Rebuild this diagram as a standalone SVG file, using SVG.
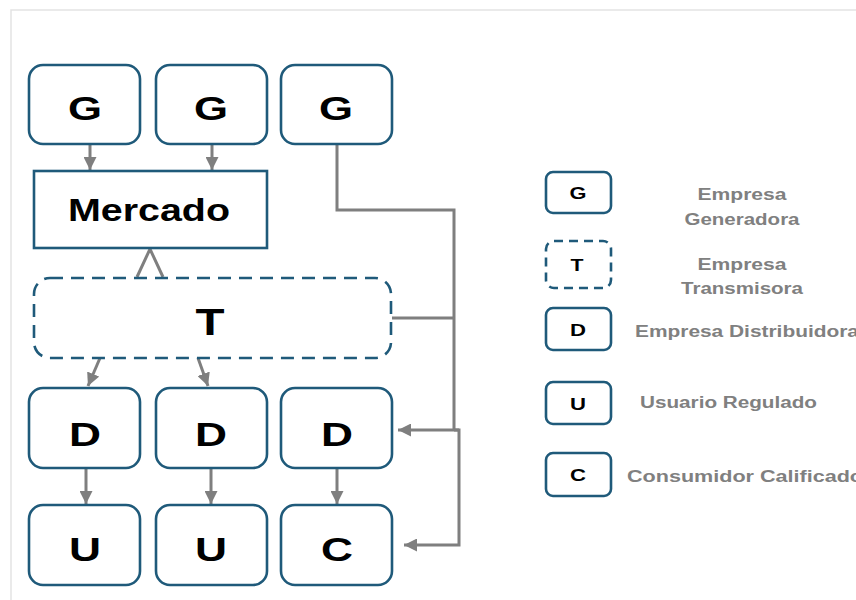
<svg xmlns="http://www.w3.org/2000/svg" width="856" height="600" viewBox="0 0 856 600">
<defs>
<marker id="ah" viewBox="0 0 10 10" refX="10" refY="5" markerWidth="13" markerHeight="13" markerUnits="userSpaceOnUse" orient="auto">
<path d="M0,0 L10,5 L0,10 z" fill="#7f7f7f"/>
</marker>
<style>
.box{fill:#fff;stroke:#1f5a7a;stroke-width:2.6}
.dash{stroke-dasharray:13 8}
.lbl{font-family:"Liberation Sans",Arial,sans-serif;font-weight:bold;fill:#000;text-anchor:middle}
.big{font-size:34px}
.sm{font-size:17px}
.leg{font-family:"Liberation Sans",Arial,sans-serif;font-weight:bold;fill:#808080;font-size:16px}
.mid{text-anchor:middle}
.c{fill:none;stroke:#7f7f7f;stroke-width:3}
</style>
</defs>
<rect width="856" height="600" fill="#fff"/>
<path d="M11,600 L11,10 L856,10" fill="none" stroke="#e3e3e3" stroke-width="1.5"/>

<g id="connectors">
<line class="c" x1="90" y1="145" x2="90" y2="170" marker-end="url(#ah)"/>
<line class="c" x1="212" y1="145" x2="212" y2="170" marker-end="url(#ah)"/>
<polyline class="c" points="337,145 337,210 454,210 454,430"/>
<line class="c" x1="392" y1="318" x2="454" y2="318"/>
<line class="c" x1="459" y1="430" x2="398" y2="430" marker-end="url(#ah)"/>
<polyline class="c" points="454,430 459,430 459,545 404,545" marker-end="url(#ah)"/>
<polyline class="c" points="137,277 150,249 163,277"/>
<line class="c" x1="100" y1="358" x2="88" y2="386" marker-end="url(#ah)"/>
<line class="c" x1="198" y1="358" x2="208" y2="386" marker-end="url(#ah)"/>
<line class="c" x1="86" y1="469" x2="86" y2="504" marker-end="url(#ah)"/>
<line class="c" x1="211" y1="469" x2="211" y2="504" marker-end="url(#ah)"/>
<line class="c" x1="337" y1="469" x2="337" y2="504" marker-end="url(#ah)"/>
</g>

<g id="g1"><rect class="box" x="29" y="65" width="111" height="79" rx="14"/><text class="lbl big" x="85" y="120" textLength="34" lengthAdjust="spacingAndGlyphs">G</text></g>
<g id="g2"><rect class="box" x="156" y="65" width="111" height="79" rx="14"/><text class="lbl big" x="211" y="120" textLength="34" lengthAdjust="spacingAndGlyphs">G</text></g>
<g id="g3"><rect class="box" x="281" y="65" width="111" height="79" rx="14"/><text class="lbl big" x="336" y="120" textLength="34" lengthAdjust="spacingAndGlyphs">G</text></g>
<g id="mercado"><rect class="box" x="34" y="171" width="233" height="77"/><text class="lbl" x="149" y="221" font-size="32" textLength="162" lengthAdjust="spacingAndGlyphs">Mercado</text></g>
<g id="t"><rect class="box dash" x="34" y="278" width="357" height="80" rx="16"/><text class="lbl" x="210" y="335" font-size="36" textLength="29" lengthAdjust="spacingAndGlyphs">T</text></g>
<g id="d1"><rect class="box" x="29" y="388" width="111" height="80" rx="14"/><text class="lbl big" x="85" y="446" textLength="32" lengthAdjust="spacingAndGlyphs">D</text></g>
<g id="d2"><rect class="box" x="156" y="388" width="111" height="80" rx="14"/><text class="lbl big" x="211" y="446" textLength="32" lengthAdjust="spacingAndGlyphs">D</text></g>
<g id="d3"><rect class="box" x="281" y="388" width="111" height="80" rx="14"/><text class="lbl big" x="337" y="446" textLength="32" lengthAdjust="spacingAndGlyphs">D</text></g>
<g id="u1"><rect class="box" x="29" y="505" width="111" height="80" rx="14"/><text class="lbl big" x="85" y="561" textLength="32" lengthAdjust="spacingAndGlyphs">U</text></g>
<g id="u2"><rect class="box" x="156" y="505" width="111" height="80" rx="14"/><text class="lbl big" x="211" y="561" textLength="32" lengthAdjust="spacingAndGlyphs">U</text></g>
<g id="c1"><rect class="box" x="281" y="505" width="111" height="80" rx="14"/><text class="lbl big" x="337" y="561" textLength="32" lengthAdjust="spacingAndGlyphs">C</text></g>

<g id="legend-g"><rect class="box" x="546" y="172" width="65" height="41" rx="7"/><text class="lbl sm" x="578" y="199" textLength="17" lengthAdjust="spacingAndGlyphs">G</text>
<text class="leg mid" x="742" y="200" textLength="89" lengthAdjust="spacingAndGlyphs">Empresa</text>
<text class="leg mid" x="742" y="225" textLength="115" lengthAdjust="spacingAndGlyphs">Generadora</text></g>
<g id="legend-t"><rect class="box dash" x="546" y="241" width="65" height="47" rx="8" style="stroke-dasharray:9 6"/><text class="lbl sm" x="577" y="271" textLength="13" lengthAdjust="spacingAndGlyphs">T</text>
<text class="leg mid" x="742" y="270" textLength="89" lengthAdjust="spacingAndGlyphs">Empresa</text>
<text class="leg mid" x="742" y="294" textLength="122" lengthAdjust="spacingAndGlyphs">Transmisora</text></g>
<g id="legend-d"><rect class="box" x="546" y="308" width="65" height="42" rx="7"/><text class="lbl sm" x="578" y="336" textLength="16" lengthAdjust="spacingAndGlyphs">D</text>
<text class="leg" x="635" y="337" textLength="224" lengthAdjust="spacingAndGlyphs">Empresa Distribuidora</text></g>
<g id="legend-u"><rect class="box" x="546" y="382" width="65" height="42" rx="7"/><text class="lbl sm" x="578" y="410" textLength="16" lengthAdjust="spacingAndGlyphs">U</text>
<text class="leg" x="640" y="408" textLength="177" lengthAdjust="spacingAndGlyphs">Usuario Regulado</text></g>
<g id="legend-c"><rect class="box" x="546" y="453" width="65" height="43" rx="7"/><text class="lbl sm" x="578" y="481" textLength="16" lengthAdjust="spacingAndGlyphs">C</text>
<text class="leg" x="627" y="482" textLength="236" lengthAdjust="spacingAndGlyphs">Consumidor Calificado</text></g>
</svg>
